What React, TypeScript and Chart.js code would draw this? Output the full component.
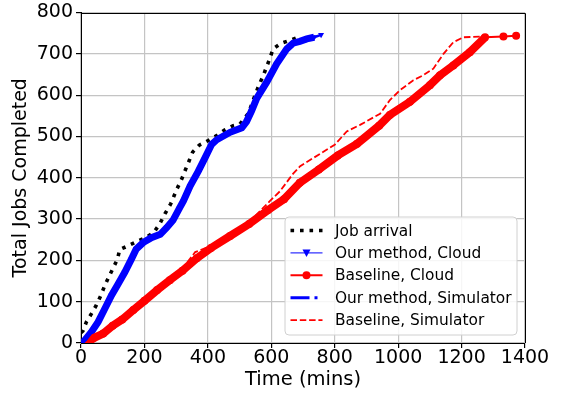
import React, { useEffect, useRef } from "react";
import { Chart, registerables } from "chart.js";

Chart.register(...registerables);

// ---- Data ----
const arrivalTime = [0, 6, 17, 33, 48, 62, 75, 87, 101, 115, 122, 148, 175, 206, 230, 248, 265, 283, 302, 317, 328, 341, 352, 373, 401, 428, 454, 480, 501, 528, 543, 559, 575, 591, 606, 630, 660, 691];
const arrivalJobs = [25, 29, 51, 71, 91, 114, 139, 159, 181, 203, 226, 235, 245, 256, 268, 288, 313, 337, 372, 396, 417, 441, 462, 479, 490, 502, 516, 526, 530, 556, 588, 620, 648, 680, 712, 725, 733, 742];

const oursCloudTime = [5, 12, 33, 54, 75, 96, 117, 138, 159, 174, 196, 222, 250, 270, 290, 311, 323, 344, 370, 391, 412, 428, 470, 507, 522, 538, 554, 586, 617, 649, 669, 690, 712, 735, 757];
const oursCloudJobs = [0, 7, 27, 51, 83, 115, 143, 171, 203, 227, 243, 255, 263, 279, 297, 327, 344, 380, 416, 448, 481, 492, 510, 521, 536, 562, 592, 632, 676, 712, 726, 730, 736, 740, 746];

const baseCloudTime = [20, 40, 70, 100, 130, 165, 200, 240, 280, 320, 365, 410, 470, 530, 590, 640, 690, 750, 810, 870, 940, 974, 1037, 1100, 1132, 1174, 1226, 1274, 1332, 1372];
const baseCloudJobs = [0, 12, 23, 42, 57, 80, 102, 128, 152, 175, 205, 230, 259, 288, 322, 348, 388, 420, 454, 482, 526, 552, 584, 624, 648, 672, 704, 740, 742, 744];

const oursSimTime = [5, 15, 35, 55, 78, 98, 120, 140, 160, 176, 198, 225, 252, 272, 292, 312, 325, 346, 372, 393, 414, 430, 472, 508, 524, 540, 556, 588, 619, 650, 672, 700, 740];
const oursSimJobs = [0, 8, 28, 52, 84, 117, 146, 173, 205, 229, 244, 256, 264, 280, 298, 328, 346, 382, 418, 450, 483, 493, 511, 522, 537, 564, 594, 634, 678, 713, 727, 732, 742];

const baseSimTime = [15, 70, 130, 200, 260, 320, 360, 420, 480, 540, 596, 627, 669, 691, 754, 800, 838, 880, 943, 974, 1006, 1048, 1079, 1111, 1143, 1174, 1206, 1270];
const baseSimJobs = [0, 25, 58, 102, 140, 180, 220, 238, 267, 300, 344, 367, 410, 428, 458, 480, 512, 528, 555, 588, 612, 636, 648, 664, 700, 728, 740, 742];

const seriesLabels = ["Job arrival", "Our method, Cloud", "Baseline, Cloud", "Our method, Simulator", "Baseline, Simulator"];

const xMin = 0, xMax = 1400, xStep = 200;
const yMin = 0, yMax = 800, yStep = 100;
const xTitle = "Time (mins)";
const yTitle = "Total Jobs Completed";

const FONT = "'DejaVu Sans', sans-serif";

const toPoints = (xs: number[], ys: number[]) => xs.map((x, i) => ({ x, y: ys[i] }));

const framePlugin = {
  id: "frame",
  afterDraw(chart: any) {
    const { ctx, chartArea } = chart;
    const { left, right, top, bottom } = chartArea;
    ctx.save();
    ctx.strokeStyle = "#000";
    ctx.lineWidth = 1;
    ctx.beginPath();
    ctx.moveTo(Math.round(left), Math.round(top) + 0.5);
    ctx.lineTo(Math.round(right) + 0.5, Math.round(top) + 0.5);
    ctx.lineTo(Math.round(right) + 0.5, Math.round(bottom));
    ctx.stroke();
    ctx.restore();
  },
};

const legendPlugin = {
  id: "customLegend",
  afterDraw(chart: any) {
    const { ctx, chartArea } = chart;
    const w = 232, h = 118;
    const x0 = chartArea.right - 8 - w;
    const y0 = chartArea.bottom - 8 - h;
    ctx.save();
    const r = 4;
    ctx.beginPath();
    ctx.moveTo(x0 + r, y0);
    ctx.lineTo(x0 + w - r, y0);
    ctx.quadraticCurveTo(x0 + w, y0, x0 + w, y0 + r);
    ctx.lineTo(x0 + w, y0 + h - r);
    ctx.quadraticCurveTo(x0 + w, y0 + h, x0 + w - r, y0 + h);
    ctx.lineTo(x0 + r, y0 + h);
    ctx.quadraticCurveTo(x0, y0 + h, x0, y0 + h - r);
    ctx.lineTo(x0, y0 + r);
    ctx.quadraticCurveTo(x0, y0, x0 + r, y0);
    ctx.closePath();
    ctx.fillStyle = "rgba(255,255,255,0.85)";
    ctx.fill();
    ctx.strokeStyle = "#d0d0d0";
    ctx.lineWidth = 1;
    ctx.stroke();

    const hx0 = x0 + 5.5, hx1 = x0 + 37.5, hmid = (hx0 + hx1) / 2;
    const textX = x0 + 50;
    ctx.font = `15.4px ${FONT}`;
    ctx.textBaseline = "middle";
    seriesLabels.forEach((label, i) => {
      const cy = y0 + 13.5 + i * 22.4;
      ctx.save();
      ctx.beginPath();
      ctx.moveTo(hx0, cy);
      ctx.lineTo(hx1, cy);
      if (i === 0) {
        ctx.strokeStyle = "#000"; ctx.lineWidth = 3.6; ctx.setLineDash([3.6, 5.9]);
      } else if (i === 1) {
        ctx.strokeStyle = "#3333ff"; ctx.lineWidth = 1.2;
      } else if (i === 2) {
        ctx.strokeStyle = "#ff0000"; ctx.lineWidth = 2;
      } else if (i === 3) {
        ctx.strokeStyle = "#0000ff"; ctx.lineWidth = 3; ctx.setLineDash([19, 5, 3, 5]);
      } else {
        ctx.strokeStyle = "#ff0000"; ctx.lineWidth = 1.8; ctx.setLineDash([6.5, 2.8]);
      }
      ctx.stroke();
      ctx.setLineDash([]);
      if (i === 1) {
        ctx.fillStyle = "#0000ff";
        ctx.beginPath();
        ctx.moveTo(hmid - 4, cy - 3.5);
        ctx.lineTo(hmid + 4, cy - 3.5);
        ctx.lineTo(hmid, cy + 4);
        ctx.closePath();
        ctx.fill();
      } else if (i === 2) {
        ctx.fillStyle = "#ff0000";
        ctx.beginPath();
        ctx.arc(hmid, cy, 4, 0, Math.PI * 2);
        ctx.fill();
      }
      ctx.restore();
      ctx.fillStyle = "#000";
      ctx.fillText(label, textX, cy + 1);
    });
    ctx.restore();
  },
};

export default function App() {
  const canvasRef = useRef<HTMLCanvasElement | null>(null);

  useEffect(() => {
    document.body.style.margin = "0";
    const canvas = canvasRef.current;
    if (!canvas) return;
    const nCloudBase = baseCloudTime.length;
    const nCloudOurs = oursCloudTime.length;
    const chart = new Chart(canvas, {
      type: "line",
      data: {
        datasets: [
          {
            label: seriesLabels[0],
            data: toPoints(arrivalTime, arrivalJobs),
            borderColor: "#000",
            borderWidth: 3.6,
            borderDash: [3.6, 5.9],
            borderCapStyle: "butt",
            pointRadius: 0,
            tension: 0,
            order: 5,
          },
          {
            label: seriesLabels[1],
            data: toPoints(oursCloudTime, oursCloudJobs),
            borderColor: "#0000ff",
            backgroundColor: "#0000ff",
            borderWidth: 7,
            pointStyle: "triangle",
            pointRotation: 180,
            pointRadius: 3.5,
            pointBorderWidth: 0,
            tension: 0,
            segment: {
              borderWidth: (c: any) => (c.p0DataIndex >= nCloudOurs - 2 ? 2.5 : 7),
            },
            order: 4,
          },
          {
            label: seriesLabels[2],
            data: toPoints(baseCloudTime, baseCloudJobs),
            borderColor: "#ff0000",
            backgroundColor: "#ff0000",
            borderWidth: 8,
            pointStyle: "circle",
            pointRadius: 4,
            pointBorderWidth: 0,
            tension: 0,
            segment: {
              borderWidth: (c: any) => (c.p0DataIndex >= nCloudBase - 3 ? 2 : 8),
            },
            order: 3,
          },
          {
            label: seriesLabels[3],
            data: toPoints(oursSimTime, oursSimJobs),
            borderColor: "#0000ff",
            borderWidth: 3,
            borderDash: [19, 5, 3, 5],
            pointRadius: 0,
            tension: 0,
            order: 2,
          },
          {
            label: seriesLabels[4],
            data: toPoints(baseSimTime, baseSimJobs),
            borderColor: "#ff0000",
            borderWidth: 1.8,
            borderDash: [6.5, 2.8],
            pointRadius: 0,
            tension: 0,
            order: 1,
          },
        ],
      },
      options: {
        responsive: false,
        animation: false,
        devicePixelRatio: 1,
        layout: { padding: { top: 10, right: 37, left: 0, bottom: 0 } },
        plugins: {
          legend: { display: false },
          tooltip: { enabled: false },
        },
        scales: {
          x: {
            type: "linear",
            min: xMin,
            max: xMax,
            ticks: {
              stepSize: xStep,
              autoSkip: false,
              maxRotation: 0,
              padding: 1,
              color: "#000",
              font: { family: FONT, size: 19, lineHeight: 1 },
              callback: (v: any) => String(v),
            },
            grid: { color: "#c4c4c4", lineWidth: 1.2, tickLength: 5, tickColor: "#000", drawTicks: true },
            border: { color: "#000", width: 1 },
            title: {
              display: true,
              text: xTitle,
              color: "#000",
              font: { family: FONT, size: 19.5 },
              padding: { top: 0, bottom: 2 },
            },
            afterFit: (s: any) => { s.height = 51; },
          },
          y: {
            type: "linear",
            min: yMin,
            max: yMax,
            ticks: {
              stepSize: yStep,
              padding: 3,
              color: "#000",
              font: { family: FONT, size: 19, lineHeight: 1 },
              callback: (v: any) => String(v),
            },
            grid: { color: "#c4c4c4", lineWidth: 1.2, tickLength: 5, tickColor: "#000", drawTicks: true },
            border: { color: "#000", width: 1 },
            title: {
              display: true,
              text: yTitle,
              color: "#000",
              font: { family: FONT, size: 19 },
              padding: { top: 10, bottom: 0 },
            },
            afterFit: (s: any) => { s.width = 81; },
          },
        },
      },
      plugins: [framePlugin, legendPlugin],
    } as any);
    return () => chart.destroy();
  }, []);

  return (
    <div style={{ width: 562, height: 394 }}>
      <canvas ref={canvasRef} width={562} height={394} style={{ width: 562, height: 394, display: "block" }} />
    </div>
  );
}
